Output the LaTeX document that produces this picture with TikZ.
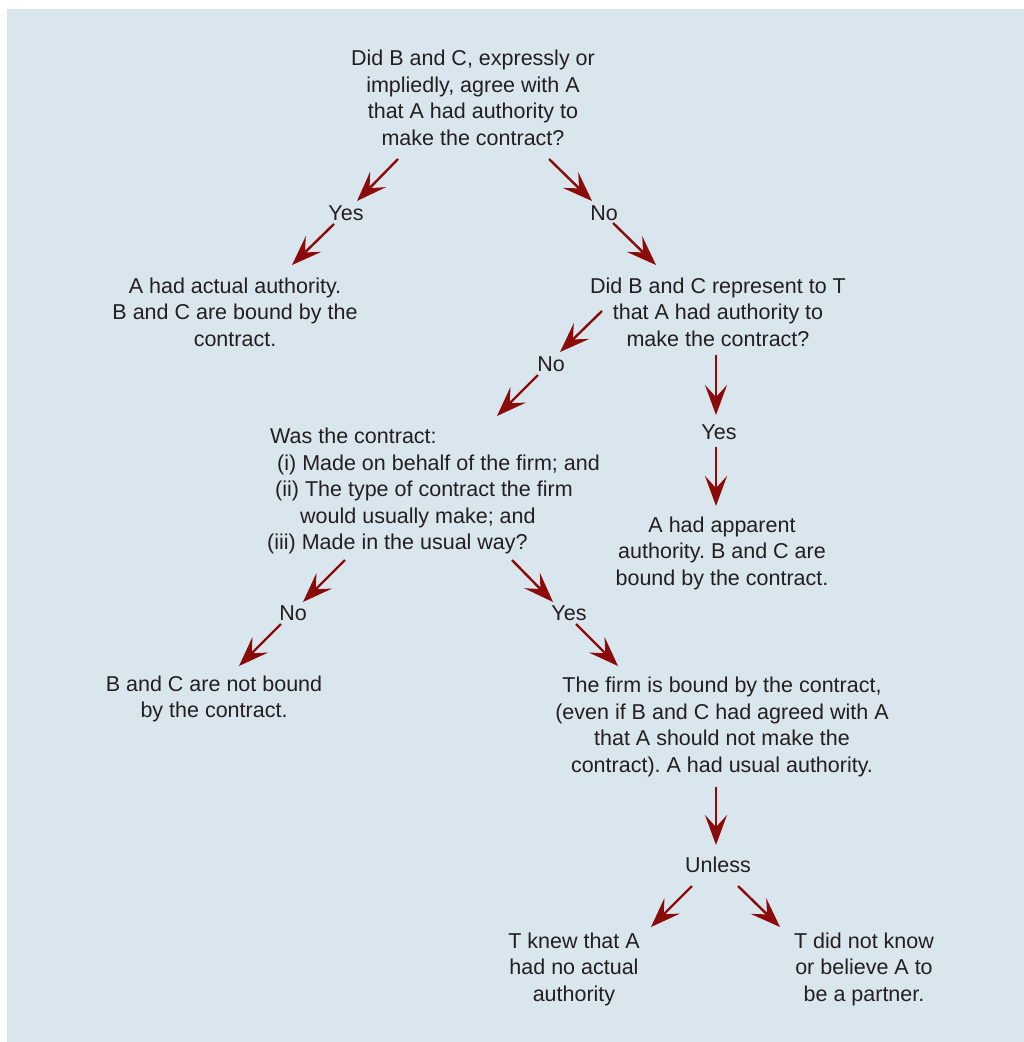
\documentclass[tikz,border=0pt]{standalone}
\usepackage{fontspec}
\setmainfont{Liberation Sans}
\usetikzlibrary{arrows.meta}
\definecolor{panel}{HTML}{DAE6EE}
\definecolor{arrowred}{HTML}{8B0A0A}
\definecolor{ink}{HTML}{231F20}
\frenchspacing
\begin{document}
\begin{tikzpicture}[x=1pt,y=-1pt,
  txt/.style={font=\fontsize{21.5}{26.5}\selectfont, text=ink, align=center, inner sep=0pt},
  lbl/.style={txt},
  arr/.style={draw=arrowred, line width=2.4pt,
    -{Stealth[length=30pt, width=22pt, inset=12pt]}}]
% canvas and panel
\useasboundingbox (0,0) rectangle (1024,1042);
\fill[panel] (7,9) rectangle (1024,1042);

% questions and outcomes
\node[txt] (q1) at (473,98) {Did B and C, expressly or\\impliedly, agree with A\\that A had authority to\\make the contract?};
\node[txt] (actual) at (235,312) {A had actual authority.\\B and C are bound by the\\contract.};
\node[txt] (q2) at (718,312) {Did B and C represent to T\\that A had authority to\\make the contract?};
\node[txt, align=left, anchor=west] (q3) at (267,491) {\hspace*{3pt}Was the contract:\\\hspace*{10pt}(i) Made on behalf of the firm; and\\\hspace*{8pt}(ii) The type of contract the firm\\\hspace*{33pt}would usually make; and\\(iii) Made in the usual way?};
\node[txt] (apparent) at (722,553) {A had apparent\\authority. B and C are\\bound by the contract.};
\node[txt] (notbound) at (214,699) {B and C are not bound\\by the contract.};
\node[txt] (usual) at (722,727) {The firm is bound by the contract,\\(even if B and C had agreed with A\\that A should not make the\\contract). A had usual authority.};
\node[txt] (knew) at (574,969) {T knew that A\\had no actual\\authority};
\node[txt] (notknow) at (864,969) {T did not know\\or believe A to\\be a partner.};

% branch labels
\node[lbl] (yes1) at (346,213) {Yes};
\node[lbl] (no1) at (604,213) {No};
\node[lbl] (no2) at (551,364) {No};
\node[lbl] (yes2) at (719,432) {Yes};
\node[lbl] (no3) at (293,613) {No};
\node[lbl] (yes3) at (569,613) {Yes};
\node[lbl] (unless) at (718,865) {Unless};

% arrow end points
\coordinate (a1s) at (398,159); \coordinate (a1e) at (357,201);
\coordinate (a2s) at (334,224); \coordinate (a2e) at (292,265);
\coordinate (a3s) at (549,159); \coordinate (a3e) at (592,201);
\coordinate (a4s) at (613,223); \coordinate (a4e) at (656,265);
\coordinate (a5s) at (602,311); \coordinate (a5e) at (560,352);
\coordinate (a6s) at (538,375); \coordinate (a6e) at (497,416);
\coordinate (v1s) at (716,355); \coordinate (v1e) at (716,415);
\coordinate (v2s) at (716,447); \coordinate (v2e) at (716,506);
\coordinate (a7s) at (345,560); \coordinate (a7e) at (303,602);
\coordinate (a8s) at (281,624); \coordinate (a8e) at (239,666);
\coordinate (a9s) at (512,560); \coordinate (a9e) at (553,602);
\coordinate (a10s) at (576,624); \coordinate (a10e) at (618,666);
\coordinate (v3s) at (716,787); \coordinate (v3e) at (716,845);
\coordinate (a11s) at (692,886); \coordinate (a11e) at (651,927);
\coordinate (a12s) at (738,886); \coordinate (a12e) at (780,927);

% connectors
\foreach \a in {a1,a2,a3,a4,a5,a6,v1,v2,a7,a8,a9,a10,v3,a11,a12}
  \draw[arr] (\a s) -- (\a e);
\end{tikzpicture}
\end{document}
